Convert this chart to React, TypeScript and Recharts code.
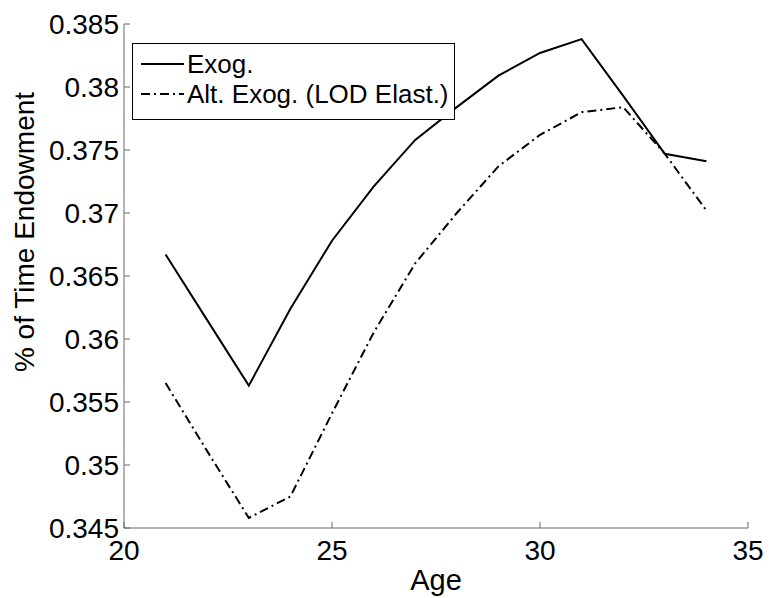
import React from "react";
import { LineChart, Line, XAxis, YAxis, Label } from "recharts";

const ages = [21, 22, 23, 24, 25, 26, 27, 28, 29, 30, 31, 32, 33, 34];
const exog = [0.3667, 0.3615, 0.3563, 0.3624, 0.3678, 0.3721, 0.3758, 0.3784, 0.3809, 0.3827, 0.3838, 0.3793, 0.3747, 0.3741];
const altExog = [0.3565, 0.3511, 0.3458, 0.3475, 0.3541, 0.3605, 0.366, 0.37, 0.3737, 0.3762, 0.378, 0.3784, 0.3747, 0.3702];
const xTicks = [20, 25, 30, 35];
const yTicks = [0.345, 0.35, 0.355, 0.36, 0.365, 0.37, 0.375, 0.38, 0.385];
const seriesNames = ["Exog.", "Alt. Exog. (LOD Elast.)"];

const data = ages.map((age, i) => ({ age, exog: exog[i], alt: altExog[i] }));

const font = "'Liberation Sans', Arial, sans-serif";
const DASH = "9 4 2 4";

// legend box drawn over the plot, like the matlab one
function LegendBox() {
  return (
    <div
      style={{
        position: "absolute",
        left: 132,
        top: 43,
        width: 321,
        height: 75,
        border: "1.5px solid #000",
        background: "#fff",
        fontFamily: font,
        fontSize: 26,
        color: "#000",
        lineHeight: "30px",
      }}
    >
      {seriesNames.map((name, i) => (
        <div key={name} style={{ display: "flex", alignItems: "center", height: 30, marginTop: i === 0 ? 5 : 0 }}>
          <svg width={52} height={10} style={{ marginLeft: 6, flexShrink: 0 }}>
            <line
              x1={2}
              x2={45}
              y1={5}
              y2={5}
              stroke="#000"
              strokeWidth={1.8}
              strokeDasharray={i === 1 ? DASH : undefined}
            />
          </svg>
          <span style={{ marginLeft: -4, whiteSpace: "nowrap" }}>{name}</span>
        </div>
      ))}
    </div>
  );
}

function YTitle() {
  return (
    <text
      x={0}
      y={0}
      transform="translate(34, 232) rotate(-90)"
      textAnchor="middle"
      fontFamily={font}
      fontSize={28}
      fill="#000"
    >
      % of Time Endowment
    </text>
  );
}

export default function App() {
  return (
    <div style={{ position: "absolute", left: 0, top: 0, width: 769, height: 598, background: "#fff" }}>
      <LineChart
        width={769}
        height={598}
        data={data}
        margin={{ top: 24, right: 21, bottom: 0, left: 0 }}
      >
        <XAxis
          dataKey="age"
          type="number"
          domain={[20, 35]}
          ticks={xTicks}
          height={70}
          tickSize={-6}
          tickMargin={18}
          stroke="#666"
          tick={{ fill: "#000", fontSize: 28, fontFamily: font }}
          interval={0}
        >
          <Label
            value="Age"
            position="insideBottom"
            offset={8}
            style={{ fill: "#000", fontSize: 29, fontFamily: font }}
          />
        </XAxis>
        <YAxis
          type="number"
          domain={[0.345, 0.385]}
          ticks={yTicks}
          width={124}
          tickSize={-6}
          tickMargin={11}
          stroke="#666"
          tick={{ fill: "#000", fontSize: 28, fontFamily: font }}
          interval={0}
          allowDataOverflow
        >
          <Label content={<YTitle />} />
        </YAxis>
        <Line
          dataKey="exog"
          name={seriesNames[0]}
          stroke="#000"
          strokeWidth={2}
          dot={false}
          isAnimationActive={false}
        />
        <Line
          dataKey="alt"
          name={seriesNames[1]}
          stroke="#000"
          strokeWidth={2}
          strokeDasharray={DASH}
          dot={false}
          isAnimationActive={false}
        />
      </LineChart>
      <LegendBox />
    </div>
  );
}
